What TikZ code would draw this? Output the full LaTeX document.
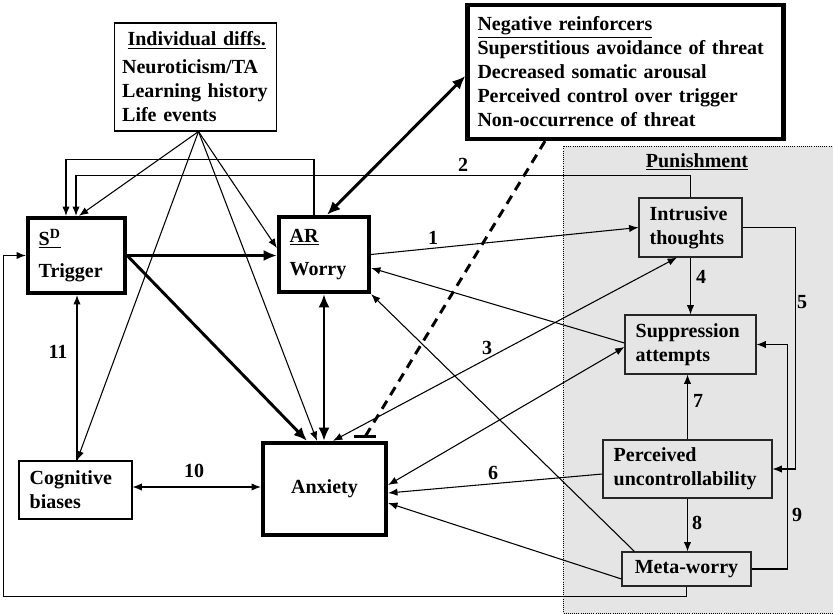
\documentclass[tikz,border=0pt]{standalone}
\usepackage{fontspec}
\setmainfont{Liberation Serif}
\usepackage{tikz}
\usetikzlibrary{arrows.meta,positioning,calc}
\tikzset{
  smalltip/.tip={Latex[length=7pt,width=5.5pt]},
  bigtip/.tip={Latex[length=10pt,width=8.5pt]}
}

\begin{document}
\begin{tikzpicture}[x=0.75pt,y=-0.75pt,
    font=\bfseries\fontsize{15}{18}\selectfont,
    box/.style={draw, line width=0.8pt, inner xsep=8pt, inner ysep=0pt, align=left},
    heavybox/.style={box, line width=3.2pt},
    punbox/.style={box, draw=black!85, fill=black!10},
    link/.style={line width=0.8pt, -smalltip},
    twoway/.style={line width=0.8pt, smalltip-smalltip},
    heavy/.style={line width=2.2pt, -bigtip},
    heavytwo/.style={line width=2.2pt, bigtip-bigtip},
    num/.style={inner sep=0pt}]
  \useasboundingbox (0,0) rectangle (833,614);

  % Punishment area
  \fill[black!10] (563,146) rectangle (840,620);
  \draw[densely dotted, line width=0.6pt] (840,146) -- (563,146) -- (563,613) -- (840,613);
  \node (pun) at (697,162) {\underline{Punishment}};

  % Boxes
  \node[box, inner xsep=6pt, text width=110pt, minimum height=81pt] (id) at (195.5,77)
    {\hspace*{4pt}\underline{Individual diffs.}\\[3pt] Neuroticism/TA\\ Learning history\\ Life events};
  \node[heavybox, inner xsep=7.5pt, text width=222pt, minimum height=100.5pt] (nr) at (625.5,72)
    {\underline{Negative reinforcers}\\ Superstitious avoidance of threat\\ Decreased somatic arousal\\ Perceived control over trigger\\ Non-occurrence of threat};
  \node[heavybox, text width=56.75pt, minimum height=56.25pt] (trig) at (76.5,255.5)
    {\underline{S\textsuperscript{D}}\\[6pt] Trigger};
  \node[heavybox, text width=51.5pt, minimum height=56.25pt] (wor) at (324,254.5)
    {\underline{AR}\\[7pt] Worry};
  \node[heavybox, align=center, text width=76.25pt, minimum height=69pt] (anx) at (324.5,489) {Anxiety};
  \node[box, text width=68.75pt, minimum height=43.5pt] (cog) at (75.5,490) {Cognitive\\ biases};

  \node[punbox, text width=61.25pt, minimum height=44.25pt] (intr) at (690.5,227.5) {Intrusive\\ thoughts};
  \node[punbox, text width=82.25pt, minimum height=44.25pt] (supp) at (690.5,344.5) {Suppression\\ attempts};
  \node[punbox, text width=110.75pt, minimum height=43.5pt] (perc) at (687.5,469) {Perceived\\ uncontrollability};
  \node[punbox, align=center, text width=80.75pt, minimum height=25.5pt] (meta) at (686.5,569) {Meta-worry};

  % Individual differences
  \coordinate (idb) at ($(id.south)+(3,0)$);
  \draw[link] (idb) -- ($(trig.north)+(2.5,0)$);
  \draw[link] (idb) -- ($(cog.north)+(1.5,0)$);
  \draw[link] (idb) -- ($(anx.north)+(-7.5,0)$);
  \draw[link] (idb) -- ($(wor.west)+(0,-6.5)$);

  % Back to the trigger
  \draw[link] ($(wor.north)+(-10,0)$) -- ++(0,-55) -| ($(trig.north)+(-10.5,0)$);
  \draw[link] (intr.north) -- ++(0,-22) -| ($(trig.north)+(-0.5,0)$);
  \draw[link] (meta.south) -- ++(0,10) -| ($(trig.west)+(-22,0)$) -- (trig.west);
  \draw[link] ($(cog.north)+(1.5,0)$) -- ($(trig.south)+(0.5,0)$);

  % Main chain
  \draw[heavy] (trig.east) -- (trig.east -| wor.west);
  \draw[heavy] (trig.east) -- ($(anx.north)+(-17.5,0)$);
  \draw[heavytwo] (wor.south) -- (wor.south |- anx.north);
  \draw[heavytwo] ($(wor.north)+(3,0)$) -- ($(nr.west)+(0,4)$);
  \draw[line width=2.2pt, dash pattern=on 7pt off 5pt] ($(nr.south)+(-80.5,0)$) -- ($(anx.north)+(40.5,-4)$);
  \draw[line width=2.2pt] ($(anx.north)+(29,-4)$) -- ++(22,0);

  % Worry and anxiety links
  \draw[link] (wor.east) -- (intr.west);
  \draw[link] ($(supp.west)+(0,-1.5)$) -- ($(wor.east)+(0,13.5)$);
  \draw[link] ($(meta.north west)+(13,0)$) -- (wor.south east);
  \draw[twoway] ($(intr.south)+(-13.5,0)$) -- ($(anx.north)+(8.5,0)$);
  \draw[twoway] ($(supp.west)+(0,2.5)$) -- ($(anx.east)+(0,-4)$);
  \draw[link] ($(perc.west)+(0,5)$) -- ($(anx.east)+(0,4)$);
  \draw[link] ($(meta.west)+(0,10)$) -- ($(anx.east)+(0,14)$);
  \draw[twoway] ($(cog.east)+(0,-3)$) -- ($(anx.west)+(0,-2)$);

  % Punishment links
  \draw[link] (intr.south) -- (supp.north);
  \draw[link] (intr.east) -- ++(53,0) |- (perc.east);
  \draw[link] (meta.east) -- ++(36,0) |- (supp.east);
  \draw[link] (perc.north) -- (perc.north |- supp.south);
  \draw[link] (perc.south) -- (perc.south |- meta.north);

  % Numbers
  \node[num] (n1) at (433,238) {1};
  \node[num] (n2) at (463,165) {2};
  \node[num] (n3) at (487,348) {3};
  \node[num] (n4) at (701,277) {4};
  \node[num] (n5) at (802,302) {5};
  \node[num] (n6) at (493,473) {6};
  \node[num] (n7) at (698,401) {7};
  \node[num] (n8) at (697,523) {8};
  \node[num] (n9) at (797,515) {9};
  \node[num] (n10) at (194,471) {10};
  \node[num] (n11) at (58,352) {11};
\end{tikzpicture}
\end{document}
